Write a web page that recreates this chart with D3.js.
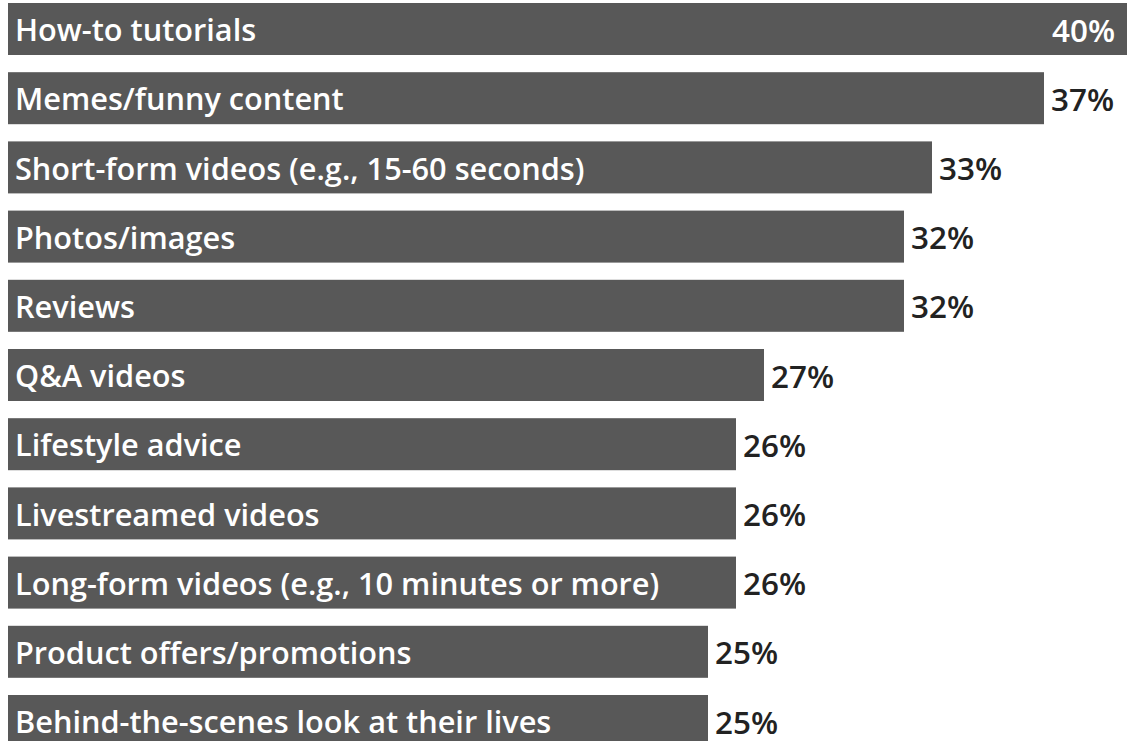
<!DOCTYPE html>
<html>
<head>
<meta charset="utf-8">
<script src="https://cdn.jsdelivr.net/npm/d3@7"></script>
<style>
  html, body { margin: 0; padding: 0; background: #fff; }
  svg { display: block; }
</style>
</head>
<body>
<div id="chart"></div>
<script>
// data
const categories = [
  'How-to tutorials',
  'Memes/funny content',
  'Short-form videos (e.g., 15-60 seconds)',
  'Photos/images',
  'Reviews',
  'Q&A videos',
  'Lifestyle advice',
  'Livestreamed videos',
  'Long-form videos (e.g., 10 minutes or more)',
  'Product offers/promotions',
  'Behind-the-scenes look at their lives'
];
const values = [40, 37, 33, 32, 32, 27, 26, 26, 26, 25, 25];

const width = 1127;
const height = 741;
const margin = {top: 3, left: 8};
const step = 69.2;
const barH = 52;
const font = '"Open Sans", "Noto Sans", sans-serif';

const svg = d3.select('#chart').append('svg')
  .attr('width', width)
  .attr('height', height);

// x: 1% is about 28px
const xScale = d3.scaleLinear()
  .domain([0, 40])
  .range([margin.left, margin.left + 40 * 28]);

const yScale = d3.scaleBand()
  .domain(categories)
  .range([margin.top, margin.top + step * categories.length - (step - barH)])
  .paddingInner((step - barH) / step)
  .paddingOuter(0);

const rows = categories.map((c, i) => ({label: c, value: values[i]}));

const g = svg.selectAll('g.row').data(rows).enter().append('g')
  .attr('class', 'row');

g.append('rect')
  .attr('x', xScale(0))
  .attr('y', d => yScale(d.label))
  .attr('width', d => xScale(d.value) - xScale(0))
  .attr('height', yScale.bandwidth())
  .attr('fill', '#585858');

const labels = g.append('text')
  .attr('x', xScale(0) + 7)
  .attr('y', d => yScale(d.label) + yScale.bandwidth() / 2)
  .attr('dy', '0.4em')
  .attr('fill', '#fff')
  .style('font-family', font)
  .style('font-weight', 600)
  .style('font-size', '26px')
  .text(d => d.label);

// size the label font so the short-form label matches the picture (~570px wide)
const ref = labels.filter(d => d.label.startsWith('Short-form')).node();
const k = 570 / ref.getComputedTextLength();
labels.style('font-size', (26 * k).toFixed(1) + 'px');

// value labels: outside the bar, except the widest which sits inside
const maxV = d3.max(values);
const vals = g.append('text')
  .attr('x', d => d.value === maxV ? width - 12 : xScale(d.value) + 7)
  .attr('y', d => yScale(d.label) + yScale.bandwidth() / 2)
  .attr('dy', '0.4em')
  .attr('text-anchor', d => d.value === maxV ? 'end' : 'start')
  .attr('fill', d => d.value === maxV ? '#fff' : '#222')
  .style('font-family', font)
  .style('font-weight', 600)
  .style('font-size', '24px')
  .text(d => d.value + '%');

const vk = 63 / vals.filter(d => d.value === 37).node().getComputedTextLength();
vals.style('font-size', (24 * vk).toFixed(1) + 'px');
</script>
</body>
</html>
